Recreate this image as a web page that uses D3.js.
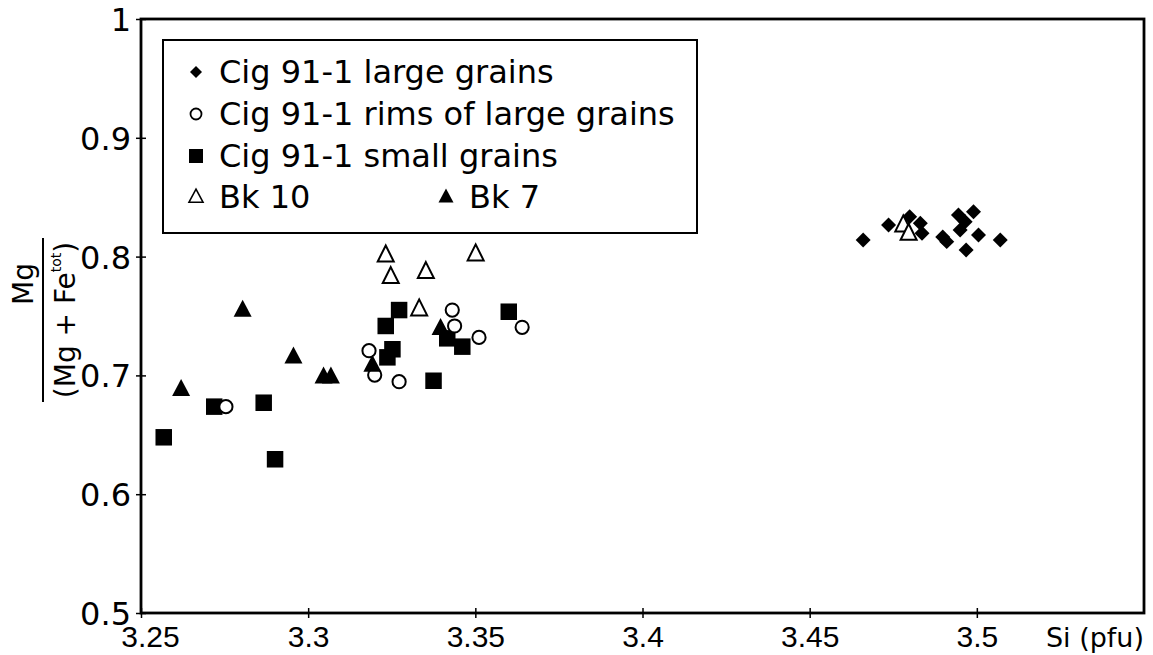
<!DOCTYPE html>
<html>
<head>
<meta charset="utf-8">
<script src="https://cdn.jsdelivr.net/npm/d3@7"></script>
<style>
  html, body { margin: 0; padding: 0; background: #fff; }
  svg { display: block; }
</style>
</head>
<body>
<svg id="chart" width="1153" height="655"></svg>
<script>
// ---- Data ----
const largeGrains = [
  [3.466, 0.814], [3.4736, 0.8266], [3.4799, 0.8336], [3.4831, 0.828], [3.4836, 0.8196],
  [3.4898, 0.8165], [3.491, 0.8126], [3.4945, 0.835], [3.499, 0.8378], [3.4965, 0.8294],
  [3.495, 0.8224], [3.5005, 0.8182], [3.4968, 0.8056], [3.507, 0.814]
];
const rimsLargeGrains = [
  [3.2754, 0.6737], [3.3182, 0.7208], [3.3199, 0.7003], [3.3272, 0.6947],
  [3.3431, 0.755], [3.3438, 0.7416], [3.3511, 0.732], [3.364, 0.7405]
];
const smallGrains = [
  [3.2568, 0.6479], [3.2719, 0.6737], [3.2867, 0.677], [3.2901, 0.6294],
  [3.3232, 0.7416], [3.3272, 0.755], [3.3252, 0.722], [3.3237, 0.7152],
  [3.3416, 0.7312], [3.3461, 0.7242], [3.3375, 0.6955], [3.36, 0.7536]
];
const bk10 = [
  [3.3232, 0.8013], [3.3501, 0.8022], [3.3247, 0.7831], [3.3352, 0.7873],
  [3.3332, 0.7559], [3.478, 0.8266], [3.4796, 0.8196]
];
const bk7 = [
  [3.262, 0.6883], [3.2804, 0.755], [3.2956, 0.7158], [3.3046, 0.699],
  [3.3068, 0.699], [3.3192, 0.7088], [3.3396, 0.7397]
];
const xTicks = [3.25, 3.3, 3.35, 3.4, 3.45, 3.5];
const xTickLabels = ["3.25", "3.3", "3.35", "3.4", "3.45", "3.5"];
const yTicks = [0.5, 0.6, 0.7, 0.8, 0.9, 1];
const yTickLabels = ["0.5", "0.6", "0.7", "0.8", "0.9", "1"];
const legendLabels = ["Cig 91-1 large grains", "Cig 91-1 rims of large grains", "Cig 91-1 small grains", "Bk 10", "Bk 7"];

// ---- Layout ----
const svg = d3.select("#chart");
const L = 141, R = 1144, T = 19, B = 613;
const x = d3.scaleLinear().domain([3.25, 3.55]).range([L, R]);
const y = d3.scaleLinear().domain([0.5, 1]).range([B, T]);

const numFont = "'DejaVu Sans', sans-serif";

// marker shapes
function triPath(w, h) {
  const p = d3.path();
  p.moveTo(0, -h * 0.6); p.lineTo(w / 2, h * 0.4); p.lineTo(-w / 2, h * 0.4); p.closePath();
  return p.toString();
}
const shapes = {
  diamond: { d: d3.symbol().type(d3.symbolSquare).size(112)(), rot: 45, fill: "#000", stroke: "none", sw: 0 },
  circle: { d: d3.symbol().type(d3.symbolCircle).size(Math.PI * 6.6 * 6.6)(), rot: 0, fill: "#fff", stroke: "#000", sw: 2 },
  square: { d: d3.symbol().type(d3.symbolSquare).size(16.5 * 16.5)(), rot: 0, fill: "#000", stroke: "none", sw: 0 },
  openTri: { d: triPath(16, 16), rot: 0, fill: "#fff", stroke: "#000", sw: 2 },
  fillTri: { d: triPath(18, 17), rot: 0, fill: "#000", stroke: "none", sw: 0 }
};
const legendShapes = {
  diamond: { d: d3.symbol().type(d3.symbolSquare).size(72)(), rot: 45, fill: "#000", stroke: "none", sw: 0 },
  circle: { d: d3.symbol().type(d3.symbolCircle).size(Math.PI * 5.5 * 5.5)(), rot: 0, fill: "#fff", stroke: "#000", sw: 1.8 },
  square: { d: d3.symbol().type(d3.symbolSquare).size(14 * 14)(), rot: 0, fill: "#000", stroke: "none", sw: 0 },
  openTri: { d: triPath(14, 13), rot: 0, fill: "#fff", stroke: "#000", sw: 1.6 },
  fillTri: { d: triPath(15, 14), rot: 0, fill: "#000", stroke: "none", sw: 0 }
};

// ---- Axes ----
const xAxisG = svg.append("g").attr("transform", `translate(0,${B})`)
  .call(d3.axisBottom(x).tickValues(xTicks).tickSize(5).tickFormat((d, i) => xTickLabels[i]));
svg.append("g").attr("transform", `translate(0,${B})`)
  .call(d3.axisTop(x).tickValues(xTicks).tickSize(5).tickFormat(""))
  .call(g => g.select(".domain").remove());
xAxisG.select(".domain").remove();
xAxisG.selectAll(".tick text")
  .attr("y", 34).attr("dy", 0)
  .attr("dx", (d, i) => i === 0 ? 9 : 0)
  .attr("fill", "#000")
  .style("font-family", "'Liberation Sans', Arial, sans-serif")
  .style("font-size", "30px");

const yAxisG = svg.append("g").attr("transform", `translate(${L},0)`)
  .call(d3.axisLeft(y).tickValues(yTicks).tickSize(5).tickFormat((d, i) => yTickLabels[i]));
svg.append("g").attr("transform", `translate(${L},0)`)
  .call(d3.axisRight(y).tickValues(yTicks).tickSize(5).tickFormat(""))
  .call(g => g.select(".domain").remove());
yAxisG.select(".domain").remove();
yAxisG.selectAll(".tick text")
  .attr("x", -10).attr("dy", "0.36em")
  .attr("fill", "#000")
  .style("font-family", numFont)
  .style("font-size", "32px");
svg.selectAll(".tick line").attr("stroke", "#000").attr("stroke-width", 1.5);

// frame
svg.append("rect").attr("x", L).attr("y", T).attr("width", R - L).attr("height", B - T)
  .attr("fill", "none").attr("stroke", "#000").attr("stroke-width", 2.8);

// ---- Points ----
function drawSeries(data, shape) {
  svg.append("g").selectAll("path").data(data).join("path")
    .attr("d", shape.d)
    .attr("transform", d => `translate(${x(d[0])},${y(d[1])}) rotate(${shape.rot})`)
    .attr("fill", shape.fill).attr("stroke", shape.stroke).attr("stroke-width", shape.sw);
}
drawSeries(largeGrains, shapes.diamond);
drawSeries(smallGrains, shapes.square);
drawSeries(rimsLargeGrains, shapes.circle);
drawSeries(bk7, shapes.fillTri);
drawSeries(bk10, shapes.openTri);

// ---- Legend ----
const leg = svg.append("g");
leg.append("rect").attr("x", 163).attr("y", 40).attr("width", 534).attr("height", 193)
  .attr("fill", "#fff").attr("stroke", "#000").attr("stroke-width", 2);
const legItems = [
  { s: legendShapes.diamond, mx: 196, tx: 219, cy: 72, label: legendLabels[0] },
  { s: legendShapes.circle, mx: 196, tx: 219, cy: 114, label: legendLabels[1] },
  { s: legendShapes.square, mx: 196, tx: 219, cy: 156, label: legendLabels[2] },
  { s: legendShapes.openTri, mx: 196, tx: 219, cy: 197, label: legendLabels[3] },
  { s: legendShapes.fillTri, mx: 446, tx: 469, cy: 197, label: legendLabels[4] }
];
legItems.forEach(it => {
  leg.append("path").attr("d", it.s.d)
    .attr("transform", `translate(${it.mx},${it.cy}) rotate(${it.s.rot})`)
    .attr("fill", it.s.fill).attr("stroke", it.s.stroke).attr("stroke-width", it.s.sw);
  leg.append("text").attr("x", it.tx).attr("y", it.cy + 11)
    .style("font-family", numFont).style("font-size", "32px").attr("fill", "#000")
    .text(it.label);
});

// ---- Axis titles ----
svg.append("text").attr("x", R).attr("y", 647).attr("text-anchor", "end")
  .style("font-family", numFont).style("font-size", "27px").attr("fill", "#000")
  .text("Si (pfu)");

const yt = svg.append("g").attr("transform", "rotate(-90)");
yt.append("text").attr("x", -284).attr("y", 33).attr("text-anchor", "middle")
  .style("font-family", numFont).style("font-size", "28px").attr("fill", "#000")
  .text("Mg");
yt.append("line").attr("x1", -402).attr("x2", -238).attr("y1", 43).attr("y2", 43)
  .attr("stroke", "#000").attr("stroke-width", 2);
const den = yt.append("text").attr("x", -320).attr("y", 75).attr("text-anchor", "middle")
  .style("font-family", numFont).style("font-size", "28px").attr("fill", "#000");
den.append("tspan").text("(Mg + Fe");
den.append("tspan").attr("dy", -14).style("font-size", "14px").text("tot");
den.append("tspan").attr("dy", 14).text(")");
</script>
</body>
</html>
